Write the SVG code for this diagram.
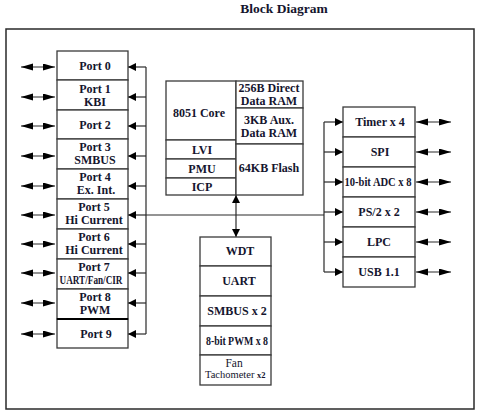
<svg xmlns="http://www.w3.org/2000/svg" width="480" height="413" viewBox="0 0 480 413">
<style>
.bx{fill:#fff;stroke:#3a3a3a;stroke-width:1.3}
.ln{fill:none;stroke:#2a2a2a;stroke-width:1.2}
.da{fill:none;stroke:#2a2a2a;stroke-width:1.2;marker-start:url(#big);marker-end:url(#big)}
.sa{fill:none;stroke:#2a2a2a;stroke-width:1.2;marker-end:url(#sm)}
.t{font-family:"Liberation Serif","Times New Roman",serif;font-weight:bold;font-size:12px;fill:#15152e;text-anchor:middle}
.r{font-weight:normal}
</style>
<defs>
<marker id="big" markerUnits="userSpaceOnUse" markerWidth="13" markerHeight="8" refX="12" refY="3.5" orient="auto-start-reverse"><path d="M0,0 L12,3.5 L0,7 z" fill="#000"/></marker>
<marker id="sm" markerUnits="userSpaceOnUse" markerWidth="9" markerHeight="9" refX="8" refY="4" orient="auto-start-reverse"><path d="M0,0 L8,4 L0,8 z" fill="#000"/></marker>
</defs>
<rect width="480" height="413" fill="#fff"/>
<text class="t" x="284" y="13" style="font-size:13.5px">Block Diagram</text>
<rect x="6" y="29" width="468" height="380" fill="none" stroke="#2a2a2a" stroke-width="1.5"/>

<g id="connectors">
<line class="da" x1="21" y1="67" x2="55" y2="67"/>
<line class="da" x1="21" y1="97" x2="55" y2="97"/>
<line class="da" x1="21" y1="126" x2="55" y2="126"/>
<line class="da" x1="21" y1="156" x2="55" y2="156"/>
<line class="da" x1="21" y1="186" x2="55" y2="186"/>
<line class="da" x1="21" y1="215" x2="55" y2="215"/>
<line class="da" x1="21" y1="244" x2="55" y2="244"/>
<line class="da" x1="21" y1="273" x2="55" y2="273"/>
<line class="da" x1="21" y1="303" x2="55" y2="303"/>
<line class="da" x1="21" y1="334" x2="55" y2="334"/>
<path class="ln" d="M146,67V334M146,215H324M324,122V272"/>
<line class="sa" x1="146" y1="67" x2="128" y2="67"/>
<line class="sa" x1="146" y1="97" x2="128" y2="97"/>
<line class="sa" x1="146" y1="126" x2="128" y2="126"/>
<line class="sa" x1="146" y1="156" x2="128" y2="156"/>
<line class="sa" x1="146" y1="186" x2="128" y2="186"/>
<line class="sa" x1="146" y1="215" x2="128" y2="215"/>
<line class="sa" x1="146" y1="244" x2="128" y2="244"/>
<line class="sa" x1="146" y1="273" x2="128" y2="273"/>
<line class="sa" x1="146" y1="303" x2="128" y2="303"/>
<line class="sa" x1="146" y1="334" x2="128" y2="334"/>
<line class="sa" x1="324" y1="122" x2="343" y2="122"/>
<line class="sa" x1="324" y1="152" x2="343" y2="152"/>
<line class="sa" x1="324" y1="182" x2="343" y2="182"/>
<line class="sa" x1="324" y1="212" x2="343" y2="212"/>
<line class="sa" x1="324" y1="242" x2="343" y2="242"/>
<line class="sa" x1="324" y1="272" x2="343" y2="272"/>
<line class="da" x1="416" y1="122" x2="451" y2="122"/>
<line class="da" x1="416" y1="152" x2="451" y2="152"/>
<line class="da" x1="416" y1="182" x2="451" y2="182"/>
<line class="da" x1="416" y1="212" x2="451" y2="212"/>
<line class="da" x1="416" y1="242" x2="451" y2="242"/>
<line class="da" x1="416" y1="272" x2="451" y2="272"/>
<line class="ln" x1="236" y1="195" x2="236" y2="237" marker-start="url(#sm)" marker-end="url(#sm)"/>
</g>

<g id="ports">
<g id="port0"><rect class="bx" x="57" y="51" width="71" height="29"/><text class="t" x="95" y="70">Port 0</text></g>
<g id="port1"><rect class="bx" x="57" y="80" width="71" height="30"/><text class="t" x="95" y="93">Port 1</text><text class="t" x="95" y="105.5">KBI</text></g>
<g id="port2"><rect class="bx" x="57" y="110" width="71" height="29"/><text class="t" x="95" y="129">Port 2</text></g>
<g id="port3"><rect class="bx" x="57" y="139" width="71" height="30"/><text class="t" x="95" y="151">Port 3</text><text class="t" x="95" y="163.5">SMBUS</text></g>
<g id="port4"><rect class="bx" x="57" y="169" width="71" height="30"/><text class="t" x="95" y="181">Port 4</text><text class="t" x="96" y="193.5">Ex. Int.</text></g>
<g id="port5"><rect class="bx" x="57" y="199" width="71" height="30"/><text class="t" x="94" y="211">Port 5</text><text class="t" x="94" y="224">Hi Current</text></g>
<g id="port6"><rect class="bx" x="57" y="229" width="71" height="30"/><text class="t" x="94" y="241">Port 6</text><text class="t" x="94" y="254">Hi Current</text></g>
<g id="port7"><rect class="bx" x="57" y="259" width="71" height="30"/><text class="t" x="94" y="271">Port 7</text><text class="t" x="91" y="284" textLength="63" lengthAdjust="spacingAndGlyphs">UART/Fan/CIR</text></g>
<g id="port8"><rect class="bx" x="57" y="289" width="71" height="30"/><text class="t" x="95" y="301">Port 8</text><text class="t" x="95" y="313.5">PWM</text></g>
<g id="port9"><rect class="bx" x="57" y="319" width="71" height="29"/><line x1="57" y1="319" x2="128" y2="319" stroke="#000" stroke-width="2"/><text class="t" x="96" y="338">Port 9</text></g>
</g>

<g id="core">
<g id="c8051"><rect class="bx" x="166" y="81" width="70" height="59"/><text class="t" x="199" y="117">8051 Core</text></g>
<g id="lvi"><rect class="bx" x="166" y="140" width="70" height="19"/><text class="t" x="202" y="154">LVI</text></g>
<g id="pmu"><rect class="bx" x="166" y="159" width="70" height="19"/><text class="t" x="202" y="173">PMU</text></g>
<g id="icp"><rect class="bx" x="166" y="178" width="70" height="17"/><text class="t" x="202" y="191">ICP</text></g>
<g id="ram256"><rect class="bx" x="236" y="81" width="67" height="27"/><text class="t" x="269" y="92">256B Direct</text><text class="t" x="269" y="104.5">Data RAM</text></g>
<g id="ram3k"><rect class="bx" x="236" y="108" width="67" height="36"/><text class="t" x="269" y="124">3KB Aux.</text><text class="t" x="269" y="136.5">Data RAM</text></g>
<g id="flash"><rect class="bx" x="236" y="144" width="67" height="51"/><text class="t" x="269" y="172">64KB Flash</text></g>
</g>

<g id="peripherals">
<g id="wdt"><rect class="bx" x="200" y="237" width="71" height="29"/><text class="t" x="240" y="255">WDT</text></g>
<g id="uart"><rect class="bx" x="200" y="266" width="71" height="30"/><text class="t" x="239" y="285">UART</text></g>
<g id="smbus2"><rect class="bx" x="200" y="296" width="71" height="30"/><text class="t" x="237" y="315">SMBUS x 2</text></g>
<g id="pwm8"><rect class="bx" x="200" y="326" width="71" height="29"/><text class="t" x="237" y="344.5" style="font-size:11.5px" textLength="62" lengthAdjust="spacingAndGlyphs">8-bit PWM x 8</text></g>
<g id="fan"><rect class="bx" x="200" y="355" width="71" height="30"/><text class="t r" x="234" y="366.5" style="font-size:11.5px">Fan</text><text class="t r" x="205" y="378" style="font-size:10.5px;text-anchor:start">Tachometer</text><text class="t" x="257" y="378" style="font-size:8.5px;text-anchor:start">x2</text></g>
</g>

<g id="right">
<g id="timer"><rect class="bx" x="343" y="107" width="72" height="30"/><text class="t" x="380" y="126">Timer x 4</text></g>
<g id="spi"><rect class="bx" x="343" y="137" width="72" height="30"/><text class="t" x="380" y="156">SPI</text></g>
<g id="adc"><rect class="bx" x="343" y="167" width="72" height="30"/><text class="t" x="378" y="186" textLength="67" lengthAdjust="spacingAndGlyphs">10-bit ADC x 8</text></g>
<g id="ps2"><rect class="bx" x="343" y="197" width="72" height="30"/><text class="t" x="379" y="216">PS/2 x 2</text></g>
<g id="lpc"><rect class="bx" x="343" y="227" width="72" height="30"/><text class="t" x="379" y="246">LPC</text></g>
<g id="usb"><rect class="bx" x="343" y="257" width="72" height="30"/><text class="t" x="379" y="276">USB 1.1</text></g>
</g>
</svg>
